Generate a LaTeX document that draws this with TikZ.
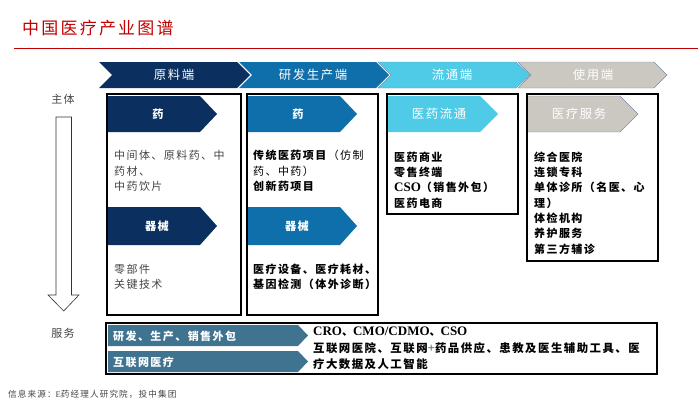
\documentclass[tikz,border=0pt]{standalone}
\usepackage{fontspec}
\setmainfont[LetterSpace=13]{Noto Sans CJK SC}
\newfontfamily\latinfont{Liberation Serif}
\newcommand{\bigLatin}[1]{{\fontsize{13}{15.3}\selectfont\latinfont #1}}
\definecolor{navy}{HTML}{0B2F5E}
\definecolor{midblue}{HTML}{0F6FAB}
\definecolor{skyblue}{HTML}{4FCBE8}
\definecolor{stone}{HTML}{CBC8C2}
\definecolor{slate}{HTML}{7F8FA6}
\definecolor{teal}{HTML}{3F7390}
\definecolor{titlered}{HTML}{C00000}
\definecolor{bodygrey}{HTML}{444444}
\tikzset{
  frame/.style={draw=black,line width=1.6pt},
  head/.style={text=white,font={\fontsize{12.4}{15}\selectfont}},
  tag/.style={text=white,font={\fontsize{11.2}{15}\selectfont\bfseries}},
  plain/.style={anchor=west,align=left,text=bodygrey,font={\fontsize{11}{15.3}\selectfont}},
  strong/.style={anchor=west,align=left,text=black,font={\fontsize{11}{15.3}\selectfont\bfseries}},
  side/.style={text=bodygrey,font={\fontsize{11}{12}\selectfont}},
}
\begin{document}
\begin{tikzpicture}[x=1pt,y=-1pt]
  \useasboundingbox (0,0) rectangle (700,404);
  % title
  \node[anchor=west,inner sep=0pt,text=titlered,font={\fontsize{17}{20}\selectfont}] (title) at (22,28) {中国医疗产业图谱};
  \draw[titlered,line width=0.9pt] (14,48.5) -- (698,48.5);

  % top row
  \fill[navy] (99,62) -- (237,62) -- (250,75) -- (237,88) -- (99,88) -- (112,75) -- cycle;
  \fill[midblue] (239,62) -- (376,62) -- (389,75) -- (376,88) -- (239,88) -- (252,75) -- cycle;
  \draw[slate,fill=skyblue] (378,62) -- (516,62) -- (530,75) -- (516,88) -- (378,88) -- (391,75) -- cycle;
  \draw[slate,fill=stone] (518,62) -- (654,62) -- (667,75) -- (654,88) -- (518,88) -- (531,75) -- cycle;
  \node[head] (raw) at (174,75) {原料端};
  \node[head] (rnd) at (313,75) {研发生产端};
  \node[head] (flow) at (452,75) {流通端};
  \node[head] (use) at (593,75) {使用端};

  % columns
  \draw[frame] (107,94) rectangle (241,315);
  \draw[frame] (247,94) rectangle (378,315);
  \draw[frame] (387,94) rectangle (518,214);
  \draw[frame] (527,94) rectangle (658,261);

  \fill[navy] (108,96) -- (200,96) -- (217,114) -- (200,132) -- (108,132) -- cycle;
  \fill[navy] (108,207) -- (200,207) -- (217,226) -- (200,245) -- (108,245) -- cycle;
  \fill[midblue] (248,96) -- (340,96) -- (357,114) -- (340,132) -- (248,132) -- cycle;
  \fill[midblue] (248,207) -- (340,207) -- (357,226) -- (340,245) -- (248,245) -- cycle;
  \fill[skyblue] (388,96) -- (480,96) -- (498,114) -- (480,132) -- (388,132) -- cycle;
  \draw[slate,fill=stone] (528,96) -- (620,96) -- (638,114) -- (620,132) -- (528,132);
  \node[tag] (rawdrug) at (158,114) {药};
  \node[tag] (rawtool) at (157,226) {器械};
  \node[tag] (rnddrug) at (298,114) {药};
  \node[tag] (rndtool) at (297,226) {器械};
  \node[head] (flowtag) at (439,114) {医药流通};
  \node[head] (usetag) at (579,114) {医疗服务};

  \node[plain,inner sep=0pt] (rawtext) at (114,171) {中间体、原料药、中\\药材、\\中药饮片};
  \node[plain,inner sep=0pt] (parts) at (114,277) {零部件\\关键技术};
  \node[strong,inner sep=0pt] (rndtext) at (253,171) {传统医药项目\textmd{（仿制}\\\textmd{药、中药）}\\创新药项目};
  \node[strong,inner sep=0pt] (devices) at (253,277) {医疗设备、医疗耗材、\\基因检测（体外诊断）};
  \node[strong,inner sep=0pt] (flowtext) at (394,180) {医药商业\\零售终端\\\bigLatin{CSO}（销售外包）\\医药电商};
  \node[strong,inner sep=0pt] (usetext) at (534,203) {综合医院\\连锁专科\\单体诊所（名医、心\\理）\\体检机构\\养护服务\\第三方辅诊};

  % left axis
  \node[side] (subject) at (63,99) {主体};
  \node[side] (service) at (63,333) {服务};
  \draw[black!80,fill=white,line width=0.6pt] (56,117) -- (71.5,117) -- (71.5,295) -- (79,295) -- (63.7,311) -- (48,295) -- (56,295) -- cycle;

  % services
  \draw[frame] (106,323) rectangle (657,374);
  \fill[teal] (108,325) -- (298,325) -- (308,335.5) -- (298,346) -- (108,346) -- cycle;
  \fill[teal] (108,351) -- (298,351) -- (308,361.5) -- (298,372) -- (108,372) -- cycle;
  \node[strong,inner sep=0pt,text=white] (outsrc) at (113,336) {研发、生产、销售外包};
  \node[strong,inner sep=0pt,text=white] (online) at (113,362) {互联网医疗};
  \node[strong,inner sep=0pt] (crolist) at (313,332) {\bigLatin{CRO}、\bigLatin{CMO/CDMO}、\bigLatin{CSO}};
  \node[strong,inner sep=0pt,font={\fontsize{11.4}{15.3}\selectfont\bfseries}] (netlist) at (313,356) {互联网医院、互联网{\color{teal}\bigLatin{+}}药品供应、患教及医生辅助工具、医\\疗大数据及人工智能};

  % source
  \node[anchor=west,inner sep=0pt,text=bodygrey,font={\fontsize{8.6}{10}\selectfont}] (source) at (8,394) {信息来源：{\latinfont E}药经理人研究院，投中集团};
\end{tikzpicture}
\end{document}
